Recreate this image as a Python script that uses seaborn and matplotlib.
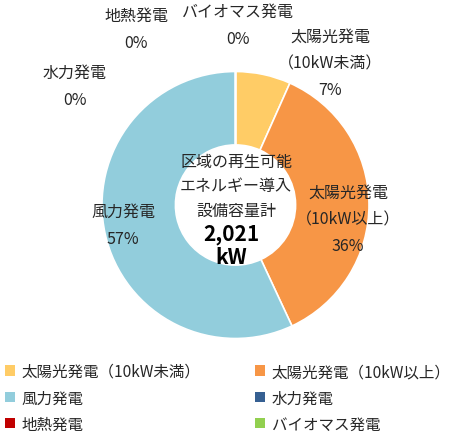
import matplotlib
matplotlib.use("Agg")
import matplotlib.pyplot as plt
from matplotlib.patches import Patch
import seaborn as sns

sns.set_theme(style="white")
plt.rcParams['font.family'] = ['Noto Sans CJK JP', 'DejaVu Sans']

categories = ["太陽光発電（10kW未満）", "太陽光発電（10kW以上）", "風力発電", "水力発電", "地熱発電", "バイオマス発電"]
values = [135, 735, 1151, 0, 0, 0]
colors = ["#FFCC66", "#F79646", "#92CDDC", "#366092", "#C00000", "#92D050"]
total_label = "2,021\nkW"
center_title = "区域の再生可能\nエネルギー導入\n設備容量計"

W, H = 458, 439
fig = plt.figure(figsize=(W / 100, H / 100), dpi=100)
ax = fig.add_axes([0, 0, 1, 1])

cx, cy, r = 235.5, H - 206, 133.5
ax.pie(values, colors=colors, startangle=90, counterclock=False,
       center=(cx, cy), radius=r,
       wedgeprops=dict(width=r * 0.55, edgecolor="white", linewidth=1.2))
ax.set_aspect("auto")
ax.set_xlim(0, W)
ax.set_ylim(0, H)
ax.axis("off")

total = sum(values)
pct = [f"{round(v / total * 100)}%" for v in values]

fs = 11.5
def lab(x, y, s):
    ax.text(x, H - y, s, ha="center", va="center", fontsize=fs, color="#262626", linespacing=1.75)

lab(330, 64, "太陽光発電\n（10kW未満）\n" + pct[0])
lab(348, 220, "太陽光発電\n（10kW以上）\n" + pct[1])
lab(123, 226, "風力発電\n" + pct[2])
lab(75, 87, "水力発電\n" + pct[3])
lab(136, 30, "地熱発電\n" + pct[4])
lab(238, 26, "バイオマス発電\n" + pct[5])

ax.text(236, H - 187, center_title, ha="center", va="center", fontsize=fs, color="#262626", linespacing=1.6)
ax.text(231, H - 246, total_label, ha="center", va="center", fontsize=15, fontweight="bold", color="#000000", linespacing=1.15)

order = [0, 2, 4, 1, 3, 5]
handles = [Patch(facecolor=colors[i], edgecolor="none", label=categories[i]) for i in order]
leg = fig.legend(handles=handles, ncol=2, loc="upper left", bbox_to_anchor=(5 / W, 1 - 364 / H),
                 frameon=False, fontsize=11.2, handlelength=0.62, handleheight=0.62, handletextpad=0.45,
                 columnspacing=3.5, labelspacing=0.6, borderpad=0, borderaxespad=0)
for t in leg.get_texts():
    t.set_color("#262626")

fig.savefig("out.png", dpi=100)
